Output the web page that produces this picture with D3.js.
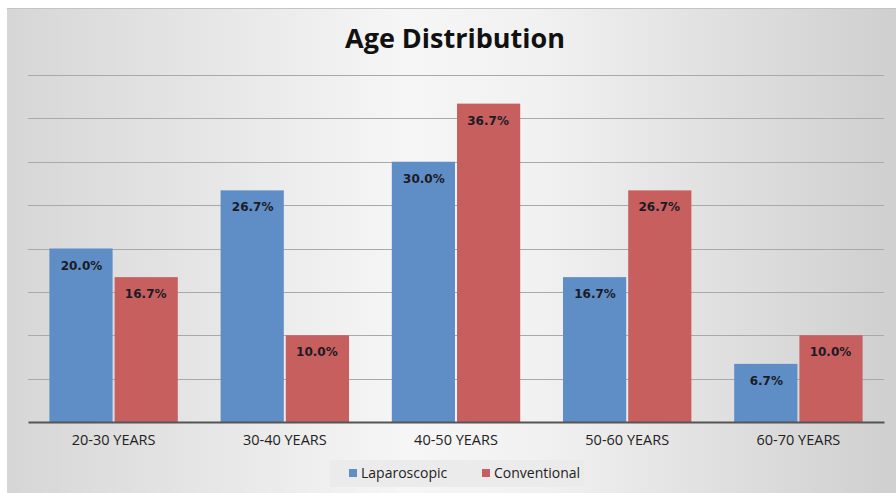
<!DOCTYPE html>
<html>
<head>
<meta charset="utf-8">
<script src="https://cdn.jsdelivr.net/npm/d3@7"></script>
<style>
  body { margin: 0; background: #fff; }
  svg { display: block; }
</style>
</head>
<body>
<div id="chart"></div>
<script>
// Chart data
const categories = ["20-30 YEARS", "30-40 YEARS", "40-50 YEARS", "50-60 YEARS", "60-70 YEARS"];
const seriesNames = ["Laparoscopic", "Conventional"];
const laparoscopic = [20.0, 26.7, 30.0, 16.7, 6.7];
const conventional = [16.7, 10.0, 36.7, 26.7, 10.0];
const gridTicks = [5, 10, 15, 20, 25, 30, 35, 40];

const width = 896;
const height = 493;
const margin = { top: 75, right: 12, bottom: 71, left: 28 };
const colors = { Laparoscopic: "#5f8dc6", Conventional: "#c75f5f" };

const svg = d3.select("#chart")
    .append("svg")
    .attr("width", width)
    .attr("height", height);

// Background gradient (grey edges, light centre)
const defs = svg.append("defs");
const grad = defs.append("linearGradient")
    .attr("id", "bg")
    .attr("x1", "0%").attr("x2", "100%")
    .attr("y1", "0%").attr("y2", "0%");
grad.append("stop").attr("offset", "0%").attr("stop-color", "#d6d6d6");
grad.append("stop").attr("offset", "45%").attr("stop-color", "#f6f6f6");
grad.append("stop").attr("offset", "60%").attr("stop-color", "#f1f1f1");
grad.append("stop").attr("offset", "100%").attr("stop-color", "#cfcfcf");

svg.append("rect")
    .attr("x", 7).attr("y", 8)
    .attr("width", width - 7).attr("height", height - 8)
    .attr("fill", "url(#bg)");
svg.append("line")
    .attr("x1", 7).attr("x2", width)
    .attr("y1", 8.5).attr("y2", 8.5)
    .attr("stroke", "#c4c4c4");

// Scales
const x0 = d3.scaleBand()
    .domain(categories)
    .range([margin.left, width - margin.right])
    .paddingInner(0.25)
    .paddingOuter(0.125);

const x1 = d3.scaleBand()
    .domain(seriesNames)
    .range([0, x0.bandwidth()]);

const y = d3.scaleLinear()
    .domain([0, 40])
    .range([height - margin.bottom, margin.top]);

// Gridlines
svg.append("g")
    .selectAll("line")
    .data(gridTicks)
    .join("line")
    .attr("x1", margin.left)
    .attr("x2", width - margin.right)
    .attr("y1", d => Math.round(y(d)) + 0.5)
    .attr("y2", d => Math.round(y(d)) + 0.5)
    .attr("stroke", "#a9a9a9")
    .attr("stroke-width", 1);

// Title
svg.append("text")
    .attr("x", 455)
    .attr("y", 48)
    .attr("text-anchor", "middle")
    .style("font-family", "'Open Sans', sans-serif")
    .style("font-weight", "bold")
    .style("font-size", "27px")
    .style("fill", "#111")
    .text("Age Distribution");

// Bars
const rows = categories.map((c, i) => ({
    category: c,
    values: [
        { series: "Laparoscopic", value: laparoscopic[i] },
        { series: "Conventional", value: conventional[i] }
    ]
}));

const groups = svg.append("g")
    .selectAll("g")
    .data(rows)
    .join("g")
    .attr("transform", d => `translate(${x0(d.category)},0)`);

groups.selectAll("rect")
    .data(d => d.values)
    .join("rect")
    .attr("x", d => x1(d.series) + (d.series === "Conventional" ? 1 : 0))
    .attr("width", d => x1.bandwidth() - 1)
    .attr("y", d => y(d.value))
    .attr("height", d => y(0) - y(d.value))
    .attr("fill", d => colors[d.series]);

groups.selectAll("text")
    .data(d => d.values)
    .join("text")
    .attr("x", d => x1(d.series) + x1.bandwidth() / 2)
    .attr("y", d => y(d.value) + 21)
    .attr("text-anchor", "middle")
    .style("font-family", "'DejaVu Sans', Verdana, sans-serif")
    .style("font-weight", "bold")
    .style("font-size", "12px")
    .style("fill", "#1b1b24")
    .text(d => d.value.toFixed(1) + "%");

// X axis
const xAxis = svg.append("g")
    .attr("transform", `translate(0, ${height - margin.bottom})`)
    .call(d3.axisBottom(x0).tickSize(0).tickPadding(13));
xAxis.select(".domain")
    .attr("stroke", "#555")
    .attr("stroke-width", 2);
xAxis.selectAll("text")
    .style("font-family", "'Open Sans', sans-serif")
    .style("font-size", "14.5px")
    .style("fill", "#222");

// Legend
const legend = svg.append("g");
legend.append("rect")
    .attr("x", 330).attr("y", 460)
    .attr("width", 254).attr("height", 27)
    .attr("fill", "#ebebeb");

const legendX = [349, 482];
seriesNames.forEach((name, i) => {
    legend.append("rect")
        .attr("x", legendX[i]).attr("y", 469)
        .attr("width", 8).attr("height", 8)
        .attr("fill", colors[name]);
    legend.append("text")
        .attr("x", legendX[i] + 12)
        .attr("y", 478)
        .style("font-family", "'Open Sans', sans-serif")
        .style("font-size", "14px")
        .style("fill", "#222")
        .text(name);
});
</script>
</body>
</html>
